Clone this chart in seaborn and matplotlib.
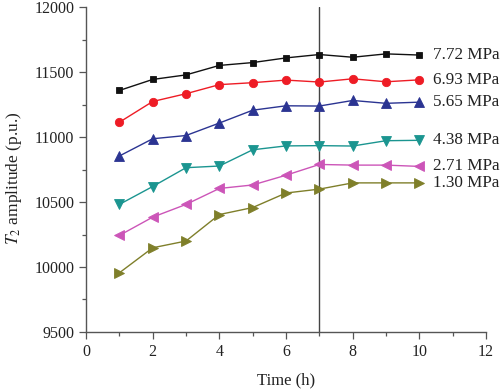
import matplotlib
matplotlib.use("Agg")
import matplotlib.pyplot as plt
import seaborn as sns
import pandas as pd
from matplotlib.ticker import MultipleLocator

time_h = [1, 2, 3, 4, 5, 6, 7, 8, 9, 10]
p_772 = [11360, 11445, 11480, 11553, 11575, 11611, 11637, 11616, 11642, 11633]
p_693 = [11115, 11275, 11335, 11405, 11420, 11440, 11425, 11450, 11427, 11442]
p_565 = [10855, 10988, 11013, 11109, 11208, 11242, 11240, 11283, 11261, 11270]
p_438 = [10482, 10620, 10765, 10778, 10903, 10933, 10935, 10932, 10973, 10976]
p_271 = [10243, 10384, 10482, 10605, 10632, 10707, 10790, 10785, 10785, 10775]
p_130 = [9955, 10148, 10200, 10404, 10458, 10570, 10600, 10648, 10648, 10648]

series_labels = ["7.72 MPa", "6.93 MPa", "5.65 MPa", "4.38 MPa", "2.71 MPa", "1.30 MPa"]
series_values = [p_772, p_693, p_565, p_438, p_271, p_130]
colors = ["#111111", "#ee1c25", "#2b3492", "#1b9590", "#cc55b8", "#7f7f2a"]
markers = ["s", "o", "^", "v", "<", ">"]
msizes = [5, 6, 6.5, 6.5, 6.5, 6.5]

sns.set_style("ticks")
plt.rcParams["font.family"] = ["Liberation Serif", "DejaVu Serif"]
plt.rcParams["mathtext.fontset"] = "stix"

fig = plt.figure(figsize=(5, 3.9), dpi=100)
ax = fig.add_axes([0.172, 0.149, 0.8, 0.832])

rows = []
for lab, vals in zip(series_labels, series_values):
    for t, v in zip(time_h, vals):
        rows.append({"Time": t, "Amp": v, "Pressure": lab})
df = pd.DataFrame(rows)

for lab, c, m, ms in zip(series_labels, colors, markers, msizes):
    sub = df[df["Pressure"] == lab]
    sns.lineplot(data=sub, x="Time", y="Amp", ax=ax, color=c, marker=m,
                 markersize=ms, markeredgewidth=0.6, markeredgecolor=c,
                 linewidth=1.0, legend=False)
    ax.text(10.42, sub["Amp"].iloc[-1], lab, va="center", ha="left",
            fontsize=12.3, color="#222222", clip_on=False)

ax.axvline(7, color="#444444", linewidth=1.0, zorder=0)

ax.set_xlim(0, 12)
ax.set_ylim(9500, 12000)
ax.xaxis.set_major_locator(MultipleLocator(2))
ax.xaxis.set_minor_locator(MultipleLocator(1))
ax.yaxis.set_major_locator(MultipleLocator(500))
ax.yaxis.set_minor_locator(MultipleLocator(250))
ax.tick_params(axis="both", which="major", length=5, width=0.9, color="#555555",
               labelsize=11.5, labelcolor="#222222", direction="out")
ax.tick_params(axis="both", which="minor", length=3, width=0.9, color="#555555",
               direction="out")
for s in ["top", "right"]:
    ax.spines[s].set_visible(False)
for s in ["left", "bottom"]:
    ax.spines[s].set_color("#555555")
    ax.spines[s].set_linewidth(1.0)

ax.set_xlabel("Time (h)", fontsize=12, color="#222222", labelpad=9)
ax.set_ylabel(r"$T_2$ amplitude (p.u.)", fontsize=12.5, color="#222222")
ax.yaxis.set_label_coords(-0.155, 0.475)

fig.savefig("out.png", dpi=100)
